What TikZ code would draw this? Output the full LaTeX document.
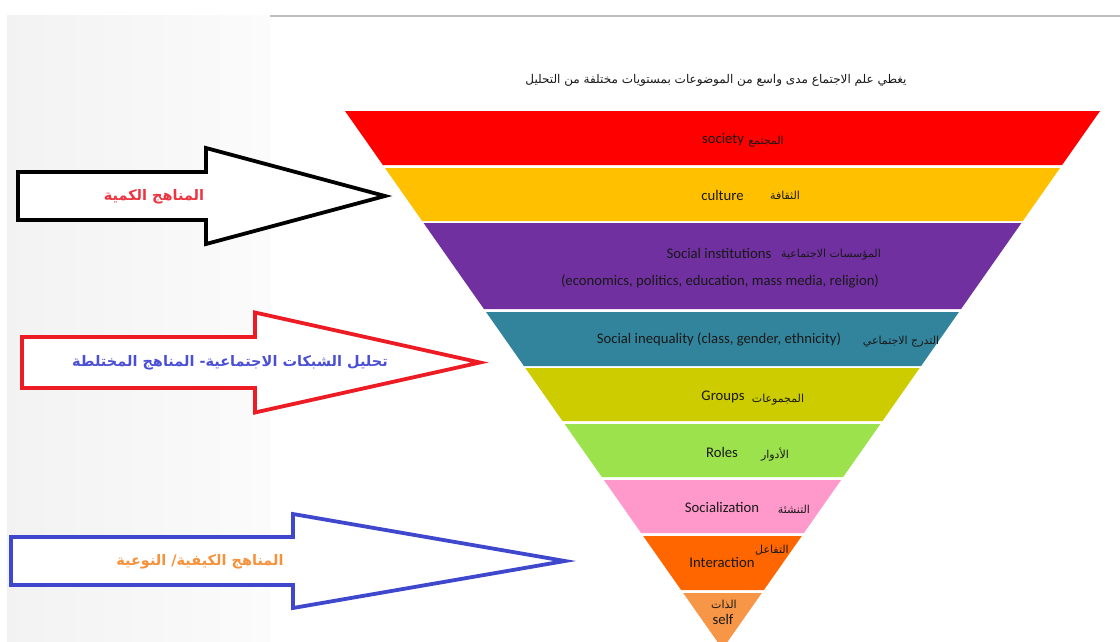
\documentclass[tikz,border=0pt]{standalone}
\usepackage{fontspec}
\setmainfont{Carlito}
\newfontfamily\arabicfont[Script=Arabic]{DejaVu Sans}
\TeXXeTstate=1
\usetikzlibrary{positioning}

\definecolor{bandred}{HTML}{FF0000}
\definecolor{bandgold}{HTML}{FFC000}
\definecolor{bandpurple}{HTML}{7030A0}
\definecolor{bandteal}{HTML}{31849B}
\definecolor{bandolive}{HTML}{CCCC00}
\definecolor{bandgreen}{HTML}{9BE24C}
\definecolor{bandpink}{HTML}{FF99CC}
\definecolor{bandorange}{HTML}{FF6600}
\definecolor{bandpeach}{HTML}{F79646}
\definecolor{arrowred}{HTML}{ED1C24}
\definecolor{arrowblue}{HTML}{3F48CC}
\definecolor{labelred}{HTML}{EE3440}
\definecolor{labelblue}{HTML}{4B4FD4}
\definecolor{labelorange}{HTML}{F7913A}

\begin{document}
\begin{tikzpicture}[x=1pt,y=-1pt,
    en/.style={font=\fontsize{14.7}{16}\selectfont, inner sep=0pt, anchor=base, text=black!90},
    ar/.style={font=\arabicfont\fontsize{11}{13}\selectfont, inner sep=0pt, anchor=base, text=black!90},
    outline/.style={line width=3.8pt, line join=miter, fill=white},
    methodlabel/.style={font=\arabicfont\bfseries\fontsize{14.5}{16}\selectfont, inner sep=0pt}]

\useasboundingbox (0,0) rectangle (1120,641);
\clip (0,0) rectangle (1120,641);

% grey panel on the left and rule on top
\shade[left color=black!5, right color=black!1.5] (7,15) rectangle (270,641);
\draw[line width=2.5pt, black!25] (270,16) -- (1120,16);

% title
\node[ar, font=\arabicfont\fontsize{12}{14}\selectfont] (title) at (716,83)
    {\beginR يغطي علم الاجتماع مدى واسع من الموضوعات بمستويات مختلفة من التحليل\endR};

% the bands of the inverted pyramid
\foreach \ytop/\ybot/\col in {111/165/bandred, 168/221/bandgold, 223/309/bandpurple,
    312/366/bandteal, 368/421/bandolive, 424/477/bandgreen, 480/533/bandpink,
    536/590/bandorange, 593/649/bandpeach} {
  \pgfmathsetmacro\wt{0.7017*(649-\ytop)}
  \pgfmathsetmacro\wb{0.7017*(649-\ybot)}
  \fill[\col] (722.5-\wt,\ytop) -- (722.5+\wt,\ytop) -- (722.5+\wb,\ybot) -- (722.5-\wb,\ybot) -- cycle;
}

% band labels
\node[en] (society) at (723,143) {society};
\node[ar] (societyar) at (766,144) {\beginR المجتمع\endR};
\node[en] (culture) at (722.5,200) {culture};
\node[ar] (culturear) at (785,199) {\beginR الثقافة\endR};
\node[en] (institutions) at (719,258) {Social institutions};
\node[ar] (institutionsar) at (831,257) {\beginR المؤسسات الاجتماعية\endR};
\node[en] (institutionlist) at (720,285) {(economics, politics, education, mass media, religion)};
\node[en] (inequality) at (719,343) {Social inequality (class, gender, ethnicity)};
\node[ar] (inequalityar) at (901,344) {\beginR التدرج الاجتماعي\endR};
\node[en] (groups) at (723,400) {Groups};
\node[ar] (groupsar) at (778,402) {\beginR المجموعات\endR};
\node[en] (roles) at (722,457) {Roles};
\node[ar] (rolesar) at (775,458) {\beginR الأدوار\endR};
\node[en] (socialization) at (722,512) {Socialization};
\node[ar] (socializationar) at (794,513) {\beginR التنشئة\endR};
\node[en] (interaction) at (722,567) {Interaction};
\node[ar] (interactionar) at (772,553) {\beginR التفاعل\endR};
\node[ar] (selfar) at (724,608) {\beginR الذات\endR};
\node[en] (self) at (723,624) {self};

% block arrows
\foreach \x/\yc/\sh/\hb/\hh/\tip/\col in {18/196/24/206/48/385/black,
    22/362.5/25.5/255/50/480/arrowred, 11/561/24/293/47/565/arrowblue} {
  \draw[outline, draw=\col] (\x,\yc-\sh) -- (\hb,\yc-\sh) -- (\hb,\yc-\hh) -- (\tip,\yc)
    -- (\hb,\yc+\hh) -- (\hb,\yc+\sh) -- (\x,\yc+\sh) -- cycle;
}

\node[methodlabel, text=labelred] (quantitative) at (154,197) {\beginR المناهج الكمية\endR};
\node[methodlabel, text=labelblue] (mixed) at (230,363) {\beginR تحليل الشبكات الاجتماعية- المناهج المختلطة\endR};
\node[methodlabel, text=labelorange] (qualitative) at (200,562) {\beginR المناهج الكيفية/ النوعية\endR};

\end{tikzpicture}
\end{document}
